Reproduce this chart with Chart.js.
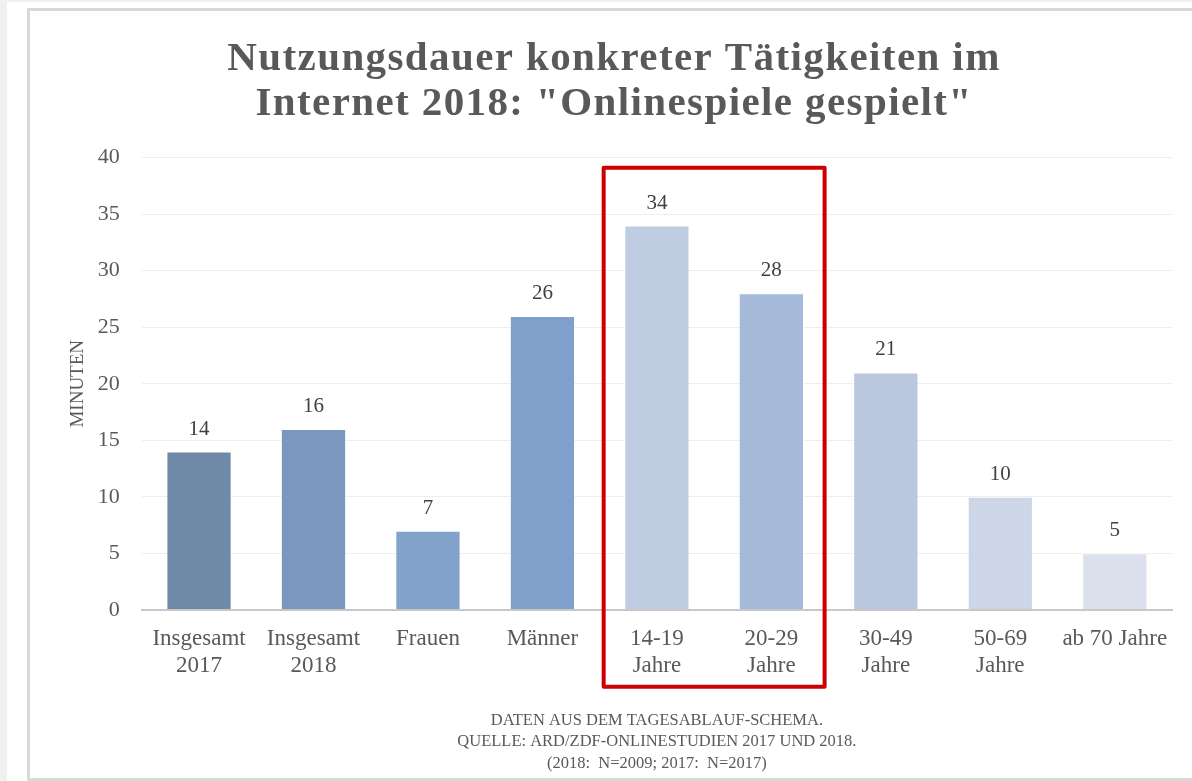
<!DOCTYPE html>
<html lang="de">
<head>
<meta charset="utf-8">
<title>Onlinespiele gespielt</title>
<script src="https://cdn.jsdelivr.net/npm/chart.js@4/dist/chart.umd.min.js"></script>
<style>
  html, body { margin: 0; padding: 0; overflow: hidden; }
  body { background: #f0f0f0; width: 1192px; height: 781px; position: relative; }
  .outer { position: absolute; left: 7px; top: 2px; right: 0; bottom: 0; background: #ffffff; }
  .panel {
    position: absolute; left: 20px; top: 6px; width: 1180px; height: 767px;
    background: #ffffff;
    border-top: 3px solid #d9d9d9; border-left: 3px solid #d9d9d9; border-bottom: 3px solid #d9d9d9;
  }
  .panel canvas { display: block; }
</style>
</head>
<body>
<div class="outer">
  <div class="panel">
    <canvas id="chart" width="1168" height="767"></canvas>
  </div>
</div>
<script>
// Kategorien und Werte (Minuten pro Tag)
const kategorien = [
  ['Insgesamt', '2017'], ['Insgesamt', '2018'], 'Frauen', 'Männer',
  ['14-19', 'Jahre'], ['20-29', 'Jahre'], ['30-49', 'Jahre'], ['50-69', 'Jahre'], 'ab 70 Jahre'
];
const minuten = [14, 16, 7, 26, 34, 28, 21, 10, 5];
const balkenFarben = [
  '#7189a9', '#7a98bd', '#80a2cb', '#7ea0ca',
  '#bfcce2', '#a5b9d8', '#b9c8df', '#cdd6e6', '#dbe0ec'
];
const yTicks = [0, 5, 10, 15, 20, 25, 30, 35, 40];
const titel = ['Nutzungsdauer konkreter Tätigkeiten im', 'Internet 2018: "Onlinespiele gespielt"'];
const quelle = [
  'DATEN AUS DEM TAGESABLAUF-SCHEMA.',
  'QUELLE: ARD/ZDF-ONLINESTUDIEN 2017 UND 2018.',
  '(2018:  N=2009; 2017:  N=2017)'
];
// hervorgehobene Kategorien (14-19 und 20-29 Jahre)
const markiert = [4, 5];

const SERIF = '"Liberation Serif", "Times New Roman", serif';

// Titel selbst zeichnen (mit Sperrung), Chart.js-Titel dient nur als Platzhalter
const titelText = {
  id: 'titelText',
  afterDraw(chart) {
    const ctx = chart.ctx;
    ctx.save();
    ctx.font = 'bold 41px ' + SERIF;
    ctx.fillStyle = '#595959';
    ctx.textAlign = 'center';
    ctx.textBaseline = 'alphabetic';
    if ('letterSpacing' in ctx) ctx.letterSpacing = '1.4px';
    const mitte = chart.width / 2;
    ctx.fillText(titel[0], mitte, 59);
    ctx.fillText(titel[1], mitte, 104);
    ctx.restore();
  }
};

// Werte über den Balken
const wertLabels = {
  id: 'wertLabels',
  afterDatasetsDraw(chart) {
    const ctx = chart.ctx;
    const meta = chart.getDatasetMeta(0);
    ctx.save();
    ctx.font = '21px ' + SERIF;
    ctx.fillStyle = '#404040';
    ctx.textAlign = 'center';
    ctx.textBaseline = 'bottom';
    meta.data.forEach((bar, i) => {
      ctx.fillText(String(minuten[i]), bar.x, bar.y - 12);
    });
    ctx.restore();
  }
};

// roter Rahmen um die markierten Kategorien
const rahmen = {
  id: 'rahmen',
  afterDraw(chart) {
    const x = chart.scales.x, y = chart.scales.y;
    const breite = (x.right - x.left) / kategorien.length;
    const links = x.getPixelForValue(markiert[0]) - breite / 2 + 4;
    const rechts = x.getPixelForValue(markiert[markiert.length - 1]) + breite / 2 - 4;
    const oben = y.getPixelForValue(39.1);
    const unten = chart.chartArea.bottom + 77;
    const ctx = chart.ctx;
    ctx.save();
    ctx.strokeStyle = '#cc0000';
    ctx.lineWidth = 4;
    ctx.lineJoin = 'round';
    ctx.strokeRect(links, oben, rechts - links, unten - oben);
    ctx.restore();
  }
};

new Chart(document.getElementById('chart'), {
  type: 'bar',
  data: {
    labels: kategorien,
    datasets: [{
      data: minuten,
      backgroundColor: balkenFarben,
      borderColor: 'rgba(255,255,255,0.5)',
      borderWidth: 1,
      barPercentage: 0.57,
      categoryPercentage: 1
    }]
  },
  options: {
    responsive: false,
    animation: false,
    layout: { padding: { top: 18, right: 26, bottom: 4, left: 13 } },
    plugins: {
      legend: { display: false },
      tooltip: { enabled: false },
      title: {
        display: true,
        text: titel,
        color: 'rgba(0,0,0,0)',
        font: { family: SERIF, size: 38, weight: 'bold', lineHeight: 1.18 },
        padding: { top: 0, bottom: 39 }
      }
    },
    scales: {
      x: {
        grid: { display: false },
        border: { color: '#c8c8c8', width: 2 },
        ticks: {
          color: '#595959',
          font: { family: SERIF, size: 23, lineHeight: 1.17 },
          padding: 8,
          maxRotation: 0,
          autoSkip: false
        },
        title: {
          display: true,
          text: quelle,
          color: '#595959',
          font: { family: SERIF, size: 16.5, lineHeight: 1.3 },
          padding: { top: 22, bottom: 0 }
        }
      },
      y: {
        min: 0,
        max: 40,
        afterBuildTicks(scale) { scale.ticks = yTicks.map(v => ({ value: v })); },
        grid: { color: '#eeeeee', drawTicks: false },
        border: { display: false },
        ticks: {
          color: '#595959',
          font: { family: SERIF, size: 22 },
          padding: 22
        },
        title: {
          display: true,
          text: 'MINUTEN',
          color: '#595959',
          font: { family: SERIF, size: 19 },
          padding: { top: 24, bottom: -14 }
        }
      }
    }
  },
  plugins: [wertLabels, rahmen, titelText]
});
</script>
</body>
</html>
